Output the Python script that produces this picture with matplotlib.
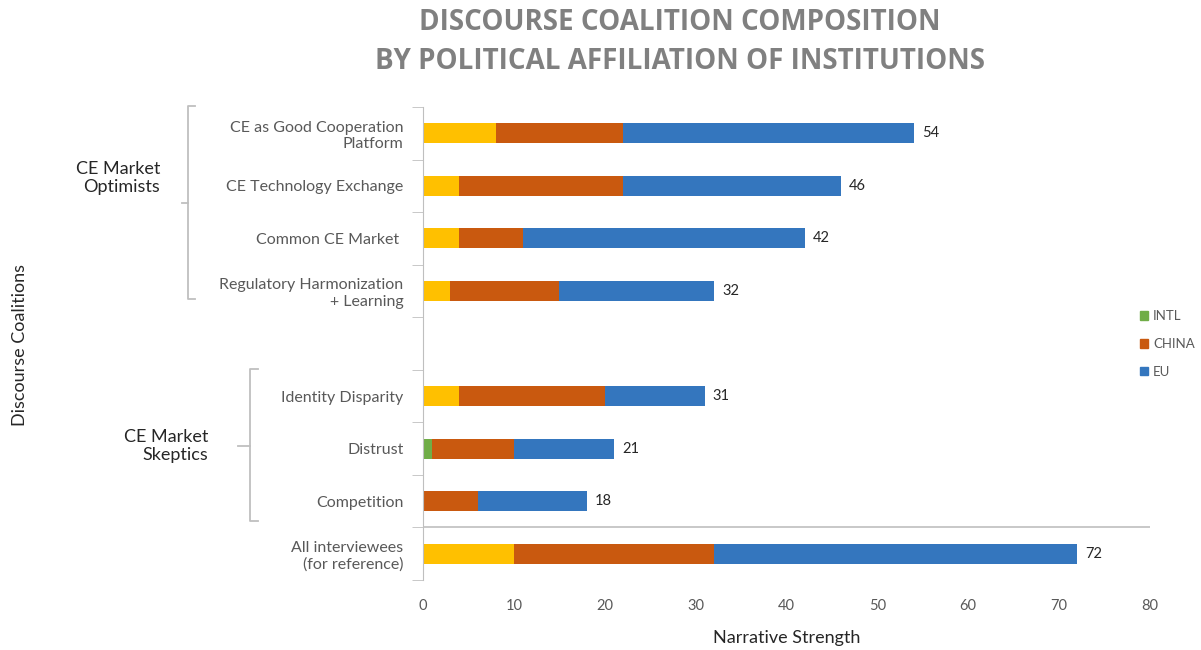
import matplotlib
matplotlib.use('Agg')
import matplotlib.pyplot as plt
from matplotlib.lines import Line2D

# ============================================
# DATA
# ============================================
categories = ['CE as Good Cooperation\nPlatform', 'CE Technology Exchange',
              'Common CE Market ', 'Regulatory Harmonization\n+ Learning', '',
              'Identity Disparity', 'Distrust', 'Competition',
              'All interviewees\n(for reference)']
mixed_vals = [8, 4, 4, 3, 0, 4, 0, 0, 10]      # yellow segment (not in legend)
intl_vals  = [0, 0, 0, 0, 0, 0, 1, 0, 0]
china_vals = [14, 18, 7, 12, 0, 16, 9, 6, 22]
eu_vals    = [32, 24, 31, 17, 0, 11, 11, 12, 40]
totals     = [54, 46, 42, 32, None, 31, 21, 18, 72]
x_ticks    = [0, 10, 20, 30, 40, 50, 60, 70, 80]

YELLOW = '#FFC000'
GREEN  = '#70AD47'
ORANGE = '#C9590F'
BLUE   = '#3476BE'
GRAY   = '#595959'
LINE   = '#BFBFBF'

plt.rcParams['font.family'] = ['Lato', 'DejaVu Sans']

fig = plt.figure(figsize=(12.01, 6.5), dpi=100)
ax = fig.add_axes([423/1201, 1-580/650, 727/1201, 473/650])

y = list(range(len(categories)))
h = 0.38
left = [0]*len(y)
for vals, col in [(mixed_vals, YELLOW), (intl_vals, GREEN), (china_vals, ORANGE), (eu_vals, BLUE)]:
    ax.barh(y, vals, left=left, height=h, color=col, edgecolor='none')
    left = [a + b for a, b in zip(left, vals)]

for yi, t in zip(y, totals):
    if t is not None:
        ax.text(t + 0.9, yi, str(t), va='center', ha='left', fontsize=10.5,
                color='#262626')

ax.set_xlim(0, 80)
ax.set_ylim(len(categories) - 0.5, -0.5)
ax.set_xticks(x_ticks)
ax.tick_params(axis='x', length=0, pad=14, labelsize=10.5, labelcolor=GRAY)
ax.set_yticks(y)
ax.set_yticklabels(categories, fontsize=11.5, color=GRAY)
ax.tick_params(axis='y', length=0, pad=14)
ax.set_yticks([i - 0.5 for i in range(len(categories) + 1)], minor=True)
ax.tick_params(axis='y', which='minor', length=8, color=LINE, direction='out')

for s in ['top', 'right', 'bottom']:
    ax.spines[s].set_visible(False)
ax.spines['left'].set_color(LINE)

# separator line between groups and reference row
ax.axhline(7.5, color=LINE, lw=1.2)

ax.set_xlabel('Narrative Strength', fontsize=13, color='#262626', labelpad=12)

# group brackets (figure pixel coordinates)
def px(x, yy):
    return x/1201, 1 - yy/650

def bracket(x, y0, y1, ymid, end_len, tick_len):
    pts = [px(x + end_len, y0), px(x, y0), px(x, y1), px(x + end_len, y1)]
    fig.add_artist(Line2D([p[0] for p in pts], [p[1] for p in pts],
                          color=LINE, lw=1.3))
    a, b = px(x - tick_len, ymid), px(x, ymid)
    fig.add_artist(Line2D([a[0], b[0]], [a[1], b[1]], color=LINE, lw=1.3))

bracket(188, 106, 299, 203, 7, 6)
bracket(250, 369, 521, 446, 8, 12)

fig.text(160/1201, 1 - 178/650, 'CE Market\nOptimists', ha='right', va='center',
         fontsize=13, color='#262626', linespacing=1.2)
fig.text(208/1201, 1 - 446/650, 'CE Market\nSkeptics', ha='right', va='center',
         fontsize=13, color='#262626', linespacing=1.2)
fig.text(20/1201, 1 - 345/650, 'Discourse Coalitions', rotation=90, ha='center',
         va='center', fontsize=13, color='#262626')

fig.text(680/1201, 1 - 42/650,
         'DISCOURSE COALITION COMPOSITION\nBY POLITICAL AFFILIATION OF INSTITUTIONS',
         ha='center', va='center', fontsize=20, fontweight='bold', color='#808080',
         family=['Open Sans', 'DejaVu Sans'], linespacing=1.42)

# legend
handles = [plt.Rectangle((0, 0), 1, 1, color=c) for c in (GREEN, ORANGE, BLUE)]
fig.legend(handles, ['INTL', 'CHINA', 'EU'], loc='center left',
           bbox_to_anchor=(1128/1201, 1 - 344/650), frameon=False,
           fontsize=9.5, labelcolor=GRAY, handlelength=0.6, handleheight=0.6,
           handletextpad=0.4, labelspacing=1.2)

plt.savefig('out.png', dpi=100)
plt.close()
